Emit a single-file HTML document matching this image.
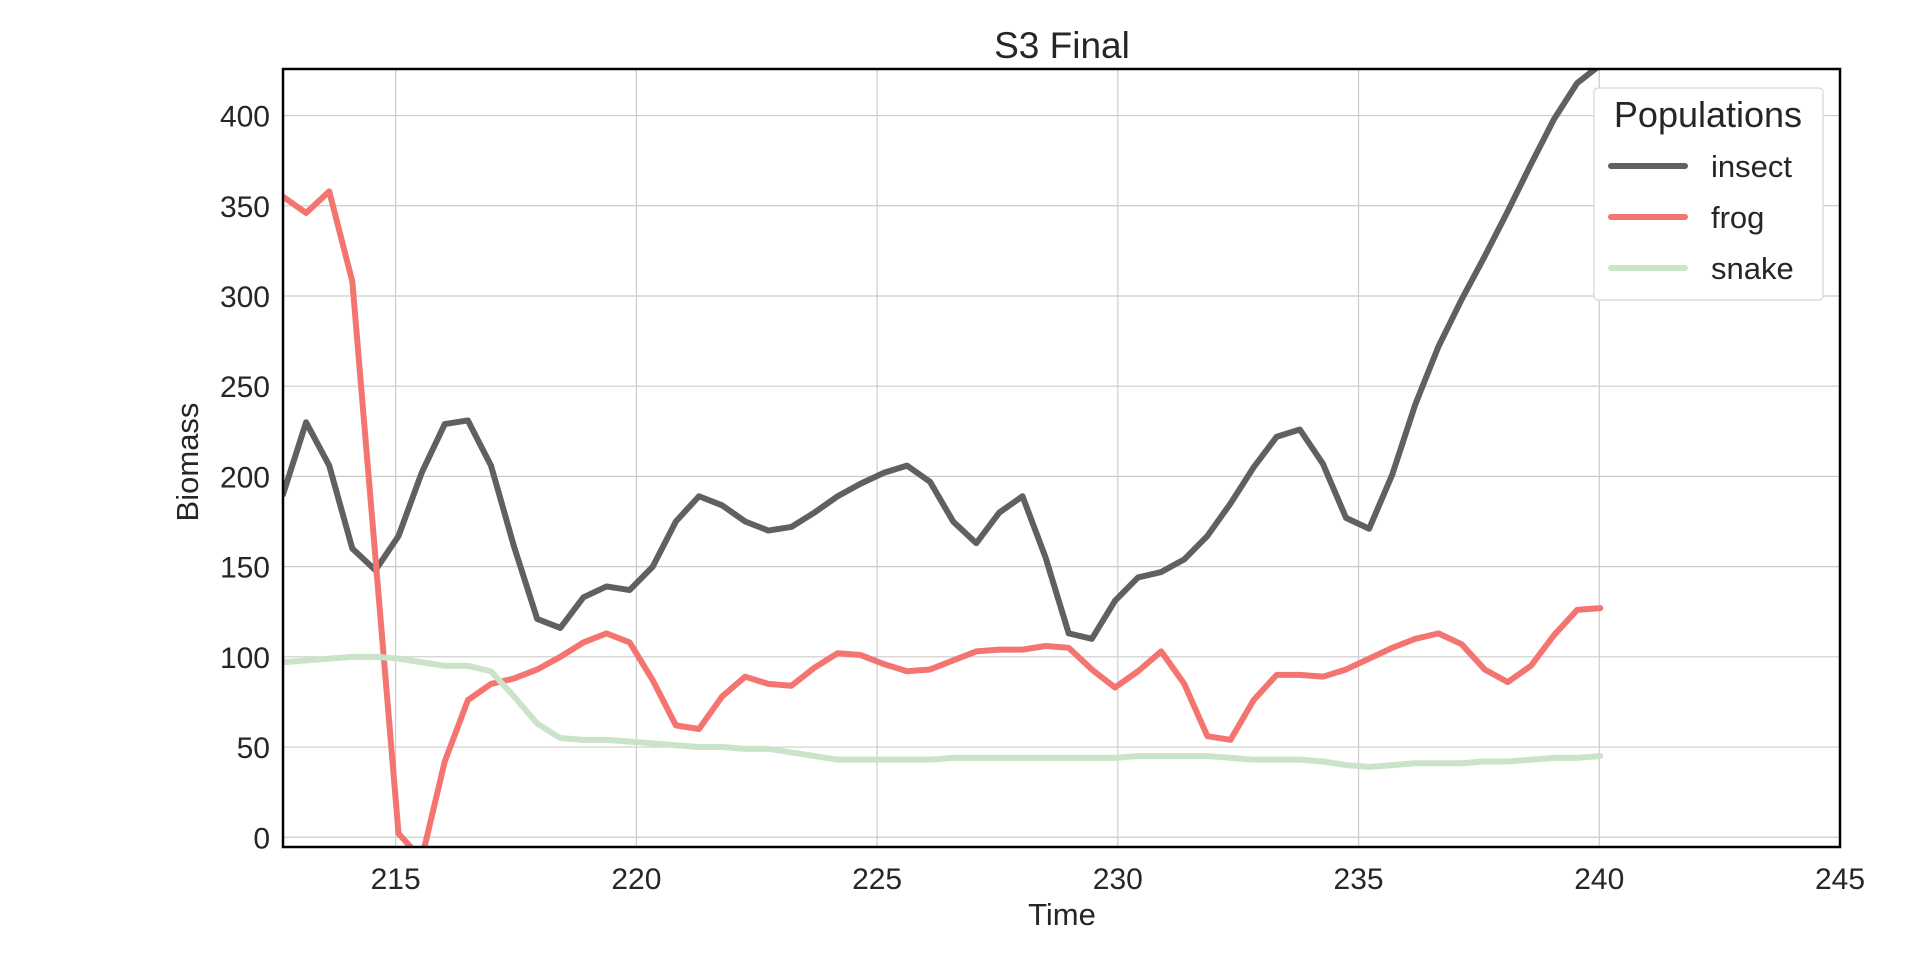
<!DOCTYPE html>
<html><head><meta charset="utf-8"><style>
body{margin:0;background:#fff;width:1920px;height:973px;overflow:hidden}
svg text{font-family:"Liberation Sans",sans-serif;fill:#262626}
</style></head><body>
<svg id="chart" width="1920" height="973" xmlns="http://www.w3.org/2000/svg">
<defs><clipPath id="clip"><rect x="283" y="69" width="1557" height="778"/></clipPath></defs>
<g id="grid"></g>
<g id="series" clip-path="url(#clip)"></g>
<rect x="283" y="69" width="1557" height="778" fill="none" stroke="#000" stroke-width="2.5"/>
<g id="ticks"></g>
<text x="1062" y="58" font-size="37" text-anchor="middle">S3 Final</text>
<text x="1062" y="925" font-size="31" text-anchor="middle">Time</text>
<text x="198" y="462" font-size="31" text-anchor="middle" transform="rotate(-90 198 462)">Biomass</text>
<g>
<rect x="1594" y="88" width="229" height="212" rx="4" fill="#fff" stroke="#ddd" stroke-width="1.5"/>
<text x="1708" y="127" font-size="36" text-anchor="middle">Populations</text>
<g id="legendItems"></g>
</g>
</svg>
<script>
const times=[212.66,213.14,213.62,214.10,214.58,215.06,215.54,216.02,216.50,216.98,217.46,217.94,218.42,218.90,219.38,219.86,220.34,220.82,221.30,221.78,222.26,222.74,223.22,223.70,224.18,224.66,225.14,225.62,226.10,226.58,227.06,227.54,228.02,228.50,228.98,229.46,229.94,230.42,230.90,231.38,231.86,232.34,232.82,233.30,233.78,234.26,234.74,235.22,235.70,236.18,236.66,237.14,237.62,238.10,238.58,239.06,239.54,240.02];
const insect=[190,230,206,160,148,167,202,229,231,206,161,121,116,133,139,137,150,175,189,184,175,170,172,180,189,196,202,206,197,175,163,180,189,155,113,110,131,144,147,154,167,185,205,222,226,207,177,171,201,240,272,298,322,347,373,398,418,428];
const frog=[355,346,358,308,155,2,-12,42,76,85,88,93,100,108,113,108,87,62,60,78,89,85,84,94,102,101,96,92,93,98,103,104,104,106,105,93,83,92,103,85,56,54,76,90,90,89,93,99,105,110,113,107,93,86,95,112,126,127];
const snake=[97,98,99,100,100,99,97,95,95,92,78,63,55,54,54,53,52,51,50,50,49,49,47,45,43,43,43,43,43,44,44,44,44,44,44,44,44,45,45,45,45,44,43,43,43,42,40,39,40,41,41,41,42,42,43,44,44,45];
const xTicks=[215,220,225,230,235,240,245];
const yTicks=[0,50,100,150,200,250,300,350,400];
const names=["insect","frog","snake"];
const colors=["#606060","#f47570","#cbe4c9"];
const L=283,R=1840,T=69,B=847,X0=212.66,X1=245,Y0=-5.4,Y1=425.8;
const xs=v=>L+(v-X0)/(X1-X0)*(R-L);
const ys=v=>B-(v-Y0)/(Y1-Y0)*(B-T);
const NS="http://www.w3.org/2000/svg";
function mk(tag,attrs,parent){const e=document.createElementNS(NS,tag);for(const k in attrs)e.setAttribute(k,attrs[k]);parent.appendChild(e);return e;}
const grid=document.getElementById('grid'),ticks=document.getElementById('ticks');
xTicks.forEach(t=>{
 const l=mk('line',{x1:xs(t),x2:xs(t),y1:T,y2:B,stroke:'#cccccc','stroke-width':1.2},grid);
 
 
 const tx=mk('text',{x:xs(t),y:B+42,'font-size':30,'text-anchor':'middle'},ticks);tx.textContent=t;
 
 
});
yTicks.forEach(t=>{
 const l=mk('line',{x1:L,x2:R,y1:ys(t),y2:ys(t),stroke:'#cccccc','stroke-width':1.2},grid);
 
 
 const tx=mk('text',{x:L-13,y:ys(t)+11,'font-size':30,'text-anchor':'end'},ticks);tx.textContent=t;
 
 
});
const sg=document.getElementById('series');
[insect,frog,snake].forEach((d,i)=>{
 const p=mk('polyline',{points:d.map((v,j)=>xs(times[j])+','+ys(v)).join(' '),fill:'none',stroke:colors[i],'stroke-width':6,'stroke-linejoin':'round','stroke-linecap':'round'},sg);
 
 
});
const lg=document.getElementById('legendItems');
names.forEach((n,i)=>{
 const y=166+i*51;
 const l=mk('line',{x1:1611,x2:1685,y1:y,y2:y,stroke:colors[i],'stroke-width':6,'stroke-linecap':'round'},lg);
 
 
 const t=mk('text',{x:1711,y:y+11,'font-size':31},lg);t.textContent=n;
 
 
});
</script>
</body></html>
